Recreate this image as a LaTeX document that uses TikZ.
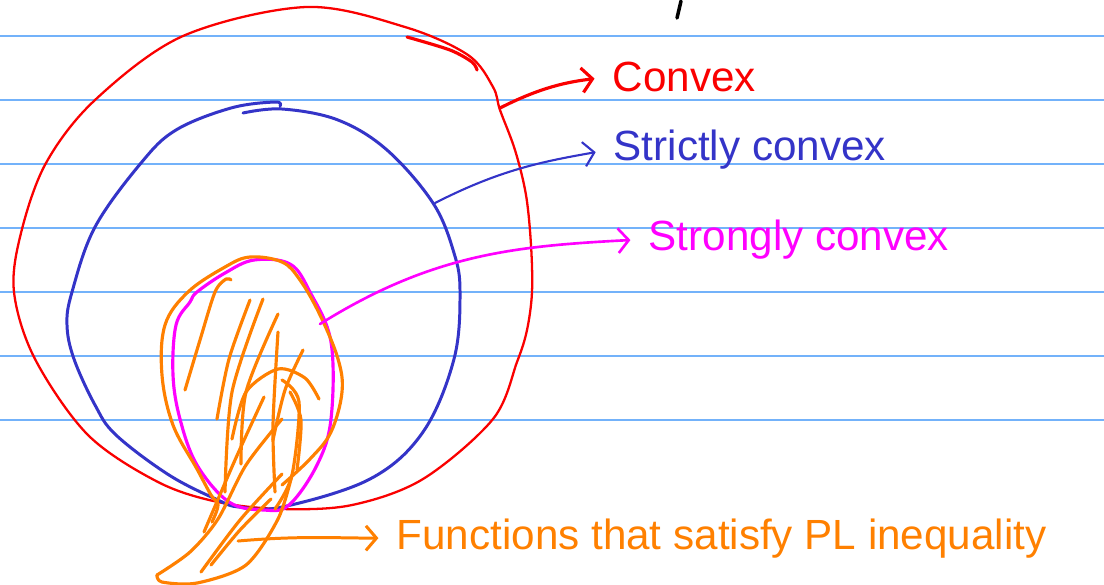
\documentclass[tikz,border=0pt]{standalone}
\usepackage{fontspec}
\setmainfont{Liberation Sans}
\usetikzlibrary{arrows.meta}
\definecolor{ruleblue}{RGB}{115,178,250}
\definecolor{cvxred}{RGB}{250,0,0}
\definecolor{strblue}{RGB}{52,52,200}
\definecolor{stgmag}{RGB}{255,0,255}
\definecolor{plorange}{RGB}{255,128,0}
\begin{document}
\begin{tikzpicture}[x=0.01cm, y=-0.01cm,
    rule/.style={ruleblue, line width=0.7pt},
    pen/.style={line width=#1, line cap=round, line join=round},
    pen/.default=0.65pt,
    lbl/.style={inner sep=0pt, font=\fontsize{12}{14}\selectfont},
    tip/.style={-{Straight Barb[length=3pt,width=7pt]}, shorten >=5pt}]
    \fill[white] (0,0) rectangle (1104,584);
    \useasboundingbox (0,0) rectangle (1104,584);
    \foreach \y in {36,100,...,420}
        \draw[rule] (0,\y) -- (1104,\y);
    \draw[pen=1pt] (681,1) -- (677,18);
    % convex
    \draw[cvxred, pen] plot[smooth cycle, tension=0.55] coordinates {(306,7) (405,27) (468,55) (493,87) (500,110) (515,150) (526,195) (531,245) (532,292) (527,330) (517,362) (493,419) (423,479) (352,505) (282,509) (218,502) (158,482) (88,435) (35,359) (14,292) (21,233) (46,163) (95,100) (183,36)};
    \draw[cvxred, pen=0.9pt] plot[smooth] coordinates {(407,37) (450,50) (472,62) (477,70)};
    % strictly convex
    \draw[strblue, pen=0.85pt] plot[smooth, tension=0.6] coordinates {(243,113) (282,109) (338,120) (387,150) (433,203) (454,253) (460,292) (454,359) (423,432) (370,479) (282,507) (239,507) (218,500) (169,475) (116,435) (95,405) (74,359) (67,325) (72,292) (95,227) (141,163) (176,130) (231,108) (275,102) (280,106)};
    % strongly convex
    \draw[stgmag, pen=0.9pt] plot[smooth cycle, tension=0.6] coordinates {(290,264) (310,292) (331,342) (331,419) (317,465) (289,505) (264,510) (229,502) (197,465) (180,419) (173,375) (176,325) (190,302) (197,292) (225,273) (254,260)};
    % PL functions
    \draw[plorange, pen=0.9pt] plot[smooth, tension=0.6] coordinates {(282,485) (310,459) (331,432) (342,392) (338,359) (320,315) (300,280) (282,262) (250,257) (225,267) (188,292) (165,325) (162,375) (173,425) (197,469) (211,495) (218,505) (212,522)};
    \draw[plorange, pen=0.9pt] plot[smooth] coordinates {(185,390) (200,340) (215,292) (226,279) (231,280)};
    \draw[plorange, pen=0.9pt] plot[smooth] coordinates {(217,419) (229,359) (250,300)};
    \draw[plorange, pen=0.9pt] plot[smooth] coordinates {(225,492) (232,392) (263,299)};
    \draw[plorange, pen=0.9pt] plot[smooth] coordinates {(241,464) (246,392) (278,314)};
    \draw[plorange, pen=0.9pt] plot[smooth] coordinates {(275,492) (273,425) (278,332)};
    \draw[plorange, pen=0.9pt] plot[smooth] coordinates {(273,440) (285,390) (303,350)};
    \draw[plorange, pen=0.9pt] plot[smooth] coordinates {(232,439) (246,392) (278,369) (305,378) (319,399)};
    \draw[plorange, pen=0.9pt] plot[smooth] coordinates {(282,380) (299,402) (292,475) (275,509)};
    \draw[plorange, pen=0.9pt] plot[smooth] coordinates {(290,392) (301,420) (297,470)};
    \draw[plorange, pen=0.9pt] plot[smooth] coordinates {(157,575) (190,552) (218,519) (246,465) (282,419)};
    \draw[plorange, pen=0.9pt] plot[smooth] coordinates {(201,572) (240,520) (282,474)};
    \draw[plorange, pen=0.9pt] plot[smooth] coordinates {(204,532) (235,460) (264,397)};
    \draw[plorange, pen=0.9pt] plot[smooth] coordinates {(211,565) (240,530) (271,499)};
    \draw[plorange, pen=0.9pt] plot[smooth] coordinates {(157,575) (162,582) (197,583) (246,565) (278,519) (292,475)};
    % labels
    \node[lbl, text=cvxred, anchor=base west] (convex) at (612,91) {Convex};
    \node[lbl, text=strblue, anchor=base west] (strictly) at (613,160) {Strictly convex};
    \node[lbl, text=stgmag, anchor=base west] (strongly) at (648,250) {Strongly convex};
    \node[lbl, text=plorange, anchor=base west] (plfun) at (396,549) {Functions that satisfy PL inequality};
    \coordinate (convex from) at (500,108);
    \coordinate (strictly from) at (435,203);
    \coordinate (strongly from) at (320,324);
    \coordinate (plfun from) at (238,541);
    \draw[cvxred, pen=0.9pt, tip] (convex from) to[out=27, in=187] (convex.west);
    \draw[strblue, pen=0.6pt, tip] (strictly from) to[out=27, in=190] (strictly.west);
    \draw[stgmag, pen=0.75pt, tip] (strongly from) to[out=32, in=183] (strongly.west);
    \draw[plorange, pen=0.85pt, tip] (plfun from) to[out=5, in=180] (plfun.west);
\end{tikzpicture}
\end{document}
